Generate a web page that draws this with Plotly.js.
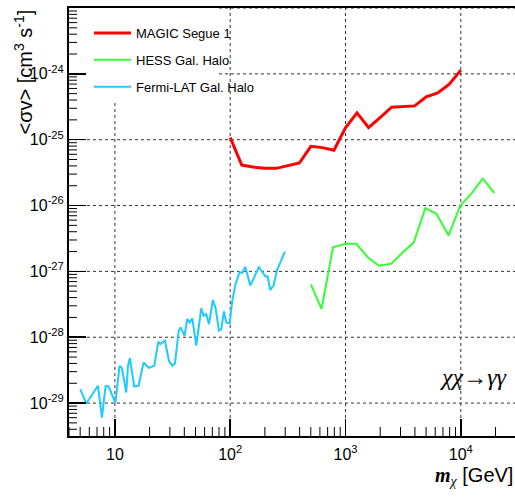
<!DOCTYPE html>
<html>
<head>
<meta charset="utf-8">
<script src="https://cdn.plot.ly/plotly-3.0.1.min.js"></script>
<style>html,body{margin:0;padding:0;background:#fff;}#chart{width:515px;height:498px;}</style>
</head>
<body>
<div id="chart"></div>
<script>
// ---- data ----
const magicX = [100,126,158,200,251,316,398,501,631,794,1000,1259,1585,1995,2512,3981,5012,6310,7943,10000];
const magicY = [1.08e-25,4.12e-26,3.84e-26,3.67e-26,3.67e-26,3.98e-26,4.42e-26,7.94e-26,7.58e-26,6.9e-26,1.51e-25,2.55e-25,1.53e-25,2.17e-25,3.11e-25,3.26e-25,4.47e-25,5.14e-25,6.97e-25,1.14e-24];

const hessX = [500,620,780,1000,1240,1560,1950,2500,3150,3900,4920,6140,7840,9900,12300,15500,19600];
const hessY = [6.37e-28,2.69e-28,2.33e-27,2.62e-27,2.62e-27,1.64e-27,1.22e-27,1.31e-27,1.95e-27,2.74e-27,9.12e-27,7.5e-27,3.51e-27,1.0e-26,1.5e-26,2.56e-26,1.54e-26];

const fermiX = [5.01,5.65,7.13,7.72,8.31,8.82,10.1,10.98,11.5,12.2,12.55,12.98,13.5,14.7,16.05,17.74,19.7,21.95,23.8,24.8,27.2,29.4,31.45,33.2,35.7,37.15,40.2,42.4,44.5,46.9,50.8,56.1,58.8,62.0,65.4,70.8,74.7,79.8,83.7,88.2,92.5,98.9,104.3,111.4,120.6,127.3,135.2,149.3,177.5,202.8,211,222.6,237.9,254,298.4];
const fermiY = [1.63e-29,9.84e-30,1.83e-29,6.03e-30,1.81e-29,1.79e-29,1.01e-29,3.68e-29,3.40e-29,1.72e-29,1.45e-29,3.68e-29,4.82e-29,1.79e-29,1.83e-29,4.14e-29,3.44e-29,3.68e-29,8.55e-29,7.87e-29,8.85e-29,4.39e-29,3.68e-29,4.0e-29,1.23e-28,1.41e-28,1.05e-28,1.89e-28,1.68e-28,1.94e-28,7.43e-29,2.75e-28,2.12e-28,2.25e-28,1.58e-28,3.68e-28,2.78e-28,1.26e-28,1.33e-28,2.47e-28,1.68e-28,1.62e-28,3.6e-28,6.45e-28,9.7e-28,9.48e-28,1.18e-27,6.08e-28,1.16e-27,8.34e-28,8.43e-28,5.22e-28,6.08e-28,1.03e-27,2.0e-27];

const seriesNames = ['MAGIC Segue 1','HESS Gal. Halo','Fermi-LAT Gal. Halo'];

const xTickVals = [10,100,1000,10000];
const xTickText = ['10','10<sup>2</sup>','10<sup>3</sup>','10<sup>4</sup>'];
const yTickVals = [1e-29,1e-28,1e-27,1e-26,1e-25,1e-24,1e-23];
const yTickText = ['10<sup>-29</sup>','10<sup>-28</sup>','10<sup>-27</sup>','10<sup>-26</sup>','10<sup>-25</sup>','10<sup>-24</sup>','10<sup>-23</sup>'];

// minor tick positions: 2..9 times each decade
const minorMult = [2,3,4,5,6,7,8,9];
const xDecades = [1,10,100,1000,10000];
const yDecades = [1e-30,1e-29,1e-28,1e-27,1e-26,1e-25,1e-24];

const FONT = 'Liberation Sans, Arial, sans-serif';
const SERIF = 'Liberation Serif, Times New Roman, serif';

// plot area in pixels: left 69, right 515, top 8, bottom 436
const L = 69, R = 515, T = 8, B = 436;
const px2x = p => (p - L) / (R - L);
const px2y = p => (B - p) / (B - T);

const XR = [Math.log10(4), 4.47];
const YR = [-29.5, -23];

const xMinor = [];
xDecades.forEach(d => minorMult.forEach(m => { const t = m * d; if (Math.log10(t) >= XR[0] && Math.log10(t) <= XR[1]) xMinor.push(t); }));
const yMinor = [];
yDecades.forEach(d => minorMult.forEach(m => { const t = m * d; if (Math.log10(t) >= YR[0] && Math.log10(t) <= YR[1]) yMinor.push(t); }));

// minor tick segments, expressed in axis units (9 px / 8 px long, inside)
const xLenDec = 9 * (YR[1] - YR[0]) / (B - T);   // in y decades
const yLenDec = 8 * (XR[1] - XR[0]) / (R - L);   // in x decades
const xTickSegX = [], xTickSegY = [];
xMinor.forEach(v => { xTickSegX.push(v, v, null); xTickSegY.push(Math.pow(10, YR[0]), Math.pow(10, YR[0] + xLenDec), null); });
const yTickSegX = [], yTickSegY = [];
yMinor.forEach(v => { yTickSegX.push(Math.pow(10, XR[0]), Math.pow(10, XR[0] + yLenDec), null); yTickSegY.push(v, v, null); });

const traces = [
  {x: xTickSegX, y: xTickSegY, mode: 'lines', showlegend: false, hoverinfo: 'skip', connectgaps: false,
   line: {color: '#000', width: 1}, cliponaxis: false},
  {x: yTickSegX, y: yTickSegY, mode: 'lines', showlegend: false, hoverinfo: 'skip', connectgaps: false,
   line: {color: '#000', width: 1}, cliponaxis: false},
  {x: magicX, y: magicY, name: seriesNames[0], mode: 'lines', legendgroup: 'a',
   line: {color: '#ff0000', width: 3}},
  {x: hessX, y: hessY, name: seriesNames[1], mode: 'lines', legendgroup: 'b',
   line: {color: '#33ff33', width: 2}},
  {x: fermiX, y: fermiY, name: seriesNames[2], mode: 'lines', legendgroup: 'c',
   line: {color: '#1ecbff', width: 2}}
];

const axisCommon = {
  type: 'log', ticks: 'inside', ticklen: 17, tickwidth: 1.5, tickcolor: '#000',
  showline: true, linewidth: 2, linecolor: '#000',
  showgrid: false, zeroline: false, tickmode: 'array',
  tickfont: {family: FONT, size: 16, color: '#000'}
};

const shapes = [];
// dotted grid lines at the major ticks, drawn below a white legend pad
xTickVals.forEach(v => shapes.push({type: 'line', xref: 'x', yref: 'paper', x0: v, x1: v, y0: 0, y1: 1,
  line: {color: '#333', width: 1, dash: 'dot'}, layer: 'below'}));
yTickVals.forEach(v => shapes.push({type: 'line', xref: 'paper', yref: 'y', x0: 0, x1: 1, y0: v, y1: v,
  line: {color: '#333', width: 1, dash: 'dot'}, layer: 'below'}));
shapes.push({type: 'rect', xref: 'paper', yref: 'paper', x0: 0, x1: px2x(218), y0: px2y(102), y1: 1,
  fillcolor: '#fff', line: {width: 0}, layer: 'below'});

const layout = {
  width: 515, height: 498,
  margin: {l: L, r: 0, t: T, b: 498 - B},
  paper_bgcolor: '#fff', plot_bgcolor: 'rgba(0,0,0,0)',
  showlegend: true,
  legend: {x: px2x(89), y: px2y(18), xanchor: 'left', yanchor: 'top', bgcolor: 'rgba(0,0,0,0)',
           borderwidth: 0, font: {family: FONT, size: 13, color: '#000'},
           traceorder: 'grouped', tracegroupgap: 7, itemwidth: 37},
  xaxis: Object.assign({}, axisCommon, {
    range: XR, tickvals: xTickVals, ticktext: xTickText, mirror: true, ticklabelstandoff: 3
  }),
  yaxis: Object.assign({}, axisCommon, {
    range: YR, tickvals: yTickVals, ticktext: yTickText
  }),
  shapes: shapes,
  annotations: [
    {xref: 'paper', yref: 'paper', x: px2x(23), y: 1, xanchor: 'center', yanchor: 'top',
     textangle: -90, showarrow: false,
     text: '<σv> [cm<sup>3</sup> s<sup>-1</sup>]',
     font: {family: FONT, size: 20, color: '#000'}},
    {xref: 'paper', yref: 'paper', x: 1, y: px2y(476), xanchor: 'right', yanchor: 'middle',
     showarrow: false,
     text: '<span style="font-family:Liberation Serif"><b><i>m</i></b><sub><i>χ</i></sub></span> [GeV]',
     font: {family: FONT, size: 20, color: '#000'}},
    {xref: 'paper', yref: 'paper', x: px2x(473), y: px2y(377), xanchor: 'center', yanchor: 'middle',
     showarrow: false,
     text: '<i>χχ</i>→<i>γγ</i>',
     font: {family: SERIF, size: 24, color: '#000'}}
  ]
};

Plotly.newPlot('chart', traces, layout, {displayModeBar: false, staticPlot: true});
</script>
</body>
</html>
